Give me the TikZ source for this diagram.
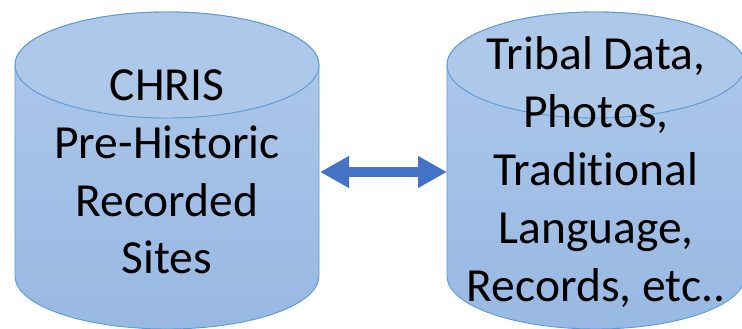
\documentclass[tikz,border=0pt]{standalone}
\usepackage{fontspec}
\setmainfont{Carlito}[Ligatures=NoCommon]
\usetikzlibrary{arrows.meta}
\definecolor{tankline}{RGB}{91,155,213}
\definecolor{tanktop}{RGB}{174,200,234}
\definecolor{tankbot}{RGB}{152,185,227}
\definecolor{linkblue}{RGB}{68,114,196}

\begin{document}
\begin{tikzpicture}[x=1pt,y=1pt,
    tank/.style={draw=tankline, line width=0.9pt},
    words/.style={font=\fontsize{47.5}{57.8}\selectfont, align=center, inner sep=0pt},
    link/.style={draw=linkblue, line width=10pt,
      {Triangle[length=29pt,width=30pt]}-{Triangle[length=29pt,width=30pt]}}]
      \useasboundingbox (0,0) rectangle (742,329);
      % the two data stores
      \foreach \cx/\rx in {167/152, 596/149} {
        \path[tank, top color=tanktop, bottom color=tankbot]
          (\cx-\rx,264) -- (\cx-\rx,53)
          arc[start angle=180, end angle=360, x radius=\rx pt, y radius=53pt]
          -- (\cx+\rx,264)
          arc[start angle=0, end angle=180, x radius=\rx pt, y radius=53pt] -- cycle;
        \draw[tank, fill=tanktop] (\cx,264) ellipse[x radius=\rx pt, y radius=53pt];
      }
      \node[words] (chris) at (167,157) {CHRIS\\Pre-Historic\\Recorded\\Sites};
      \node[words] (tribal) at (596,157) {Tribal Data,\\Photos,\\Traditional\\Language,\\Records, etc..};
      \coordinate (lhs) at (320,157);
      \coordinate (rhs) at (447,157);
      \draw[link] (lhs) -- (rhs);
    \end{tikzpicture}
\end{document}
